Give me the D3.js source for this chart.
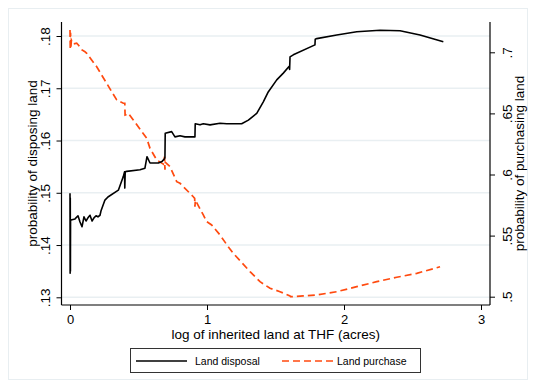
<!DOCTYPE html>
<html>
<head>
<meta charset="utf-8">
<script src="https://cdn.jsdelivr.net/npm/d3@7"></script>
<style>
  body { margin: 0; background: #fff; }
  svg { display: block; font-family: "Liberation Sans", Arial, sans-serif; }
</style>
</head>
<body>
<svg id="chart" width="536" height="387"></svg>
<script>
// log of inherited land (x) and probability of disposing land (left axis)
var disposalX = [0, 0.001, 0.002, 0.003, 0.004, 0.0073, 0.0365, 0.0584, 0.073, 0.0876, 0.102, 0.117, 0.131, 0.146, 0.161, 0.175, 0.19, 0.204, 0.219, 0.226, 0.255, 0.277, 0.353, 0.389, 0.398, 0.4, 0.403, 0.414, 0.511, 0.547, 0.562, 0.584, 0.645, 0.672, 0.69, 0.693, 0.695, 0.742, 0.766, 0.803, 0.839, 0.9, 0.912, 0.914, 0.949, 0.973, 1.022, 1.095, 1.144, 1.192, 1.253, 1.302, 1.363, 1.411, 1.447, 1.509, 1.557, 1.6, 1.603, 1.606, 1.63, 1.788, 1.79, 1.801, 1.947, 2.093, 2.263, 2.409, 2.555, 2.725];
var disposalY = [0.1499, 0.1346, 0.149, 0.135, 0.1448, 0.1448, 0.145, 0.1456, 0.1444, 0.1435, 0.1454, 0.1446, 0.1452, 0.1457, 0.1446, 0.1452, 0.1456, 0.1454, 0.1457, 0.1465, 0.1486, 0.1492, 0.1505, 0.1531, 0.154, 0.1509, 0.154, 0.1541, 0.1544, 0.1547, 0.1569, 0.1557, 0.1557, 0.156, 0.1565, 0.1568, 0.1614, 0.1617, 0.1607, 0.1609, 0.1607, 0.1607, 0.1607, 0.1632, 0.163, 0.1632, 0.163, 0.1633, 0.1632, 0.1632, 0.1632, 0.1639, 0.1652, 0.1674, 0.1693, 0.1716, 0.1729, 0.1742, 0.1736, 0.176, 0.1764, 0.1783, 0.1794, 0.1795, 0.1802, 0.1808, 0.1811, 0.181, 0.1802, 0.1789];

// probability of purchasing land (right axis)
var purchaseX = [0, 0.002, 0.004, 0.006, 0.01, 0.024, 0.049, 0.061, 0.085, 0.109, 0.122, 0.158, 0.195, 0.231, 0.268, 0.304, 0.341, 0.389, 0.4, 0.402, 0.409, 0.426, 0.462, 0.56, 0.584, 0.633, 0.681, 0.69, 0.693, 0.696, 0.73, 0.779, 0.803, 0.9, 0.91, 0.912, 0.915, 0.973, 0.998, 1.034, 1.095, 1.155, 1.192, 1.314, 1.387, 1.46, 1.533, 1.606, 1.61, 1.703, 1.801, 1.947, 2.093, 2.239, 2.385, 2.531, 2.701];
var purchaseY = [0.7182, 0.7021, 0.716, 0.703, 0.71, 0.7068, 0.7074, 0.706, 0.7021, 0.7005, 0.6992, 0.6937, 0.6882, 0.6814, 0.6746, 0.6678, 0.661, 0.6583, 0.6583, 0.6487, 0.649, 0.6501, 0.6446, 0.6296, 0.6214, 0.6119, 0.6085, 0.6146, 0.604, 0.61, 0.6064, 0.5941, 0.5928, 0.5818, 0.5805, 0.5736, 0.579, 0.5669, 0.5614, 0.5587, 0.5505, 0.5409, 0.5355, 0.5205, 0.5123, 0.5069, 0.5041, 0.5006, 0.5, 0.5006, 0.5014, 0.5041, 0.5082, 0.5123, 0.5159, 0.5191, 0.5245];

var xTicks = [0, 1, 2, 3];
var leftTicks = [0.13, 0.14, 0.15, 0.16, 0.17, 0.18];
var leftLabels = [".13", ".14", ".15", ".16", ".17", ".18"];
var rightTicks = [0.5, 0.55, 0.6, 0.65, 0.7];
var rightLabels = [".5", ".55", ".6", ".65", ".7"];
var seriesNames = ["Land disposal", "Land purchase"];

var ORANGE = "#ff4a0f";
var GRID = "#e9eff2";
var plot = { left: 61.5, right: 490, top: 22, bottom: 305 };

var svg = d3.select("#chart");

// outer graph region border
svg.append("rect")
    .attr("x", 8.5).attr("y", 8.5)
    .attr("width", 519).attr("height", 371)
    .attr("fill", "#fff")
    .attr("stroke", "#e8eef1")
    .attr("stroke-width", 1);

var x = d3.scaleLinear().domain([0, 3]).range([70, 481]);
var yLeft = d3.scaleLinear().domain([0.13, 0.18]).range([297.3, 36]);
var yRight = d3.scaleLinear().domain([0.5, 0.7]).range([296.7, 52.3]);

// gridlines at left ticks
svg.append("g")
    .selectAll("line")
    .data(leftTicks)
    .enter()
    .append("line")
        .attr("x1", plot.left)
        .attr("x2", plot.right)
        .attr("y1", function(d) { return yLeft(d); })
        .attr("y2", function(d) { return yLeft(d); })
        .attr("stroke", GRID)
        .attr("stroke-width", 1.5);

// axes
var xAxis = svg.append("g")
    .attr("transform", "translate(0," + plot.bottom + ")")
    .call(d3.axisBottom(x).tickValues(xTicks).tickSize(5).tickSizeOuter(0).tickFormat(d3.format("d")));

var leftAxis = svg.append("g")
    .attr("transform", "translate(" + plot.left + ",0)")
    .call(d3.axisLeft(yLeft).tickValues(leftTicks).tickSize(5).tickSizeOuter(0));

var rightAxis = svg.append("g")
    .attr("transform", "translate(" + plot.right + ",0)")
    .call(d3.axisRight(yRight).tickValues(rightTicks).tickSize(5).tickSizeOuter(0));

[xAxis, leftAxis, rightAxis].forEach(function(g) {
    g.select(".domain").remove();
    g.selectAll(".tick line").attr("stroke", "#000").attr("stroke-width", 1);
    g.selectAll("text").attr("fill", "#000").style("font-size", "13.5px");
});

xAxis.selectAll("text")
    .style("font-size", "13px")
    .attr("y", 9.5)
    .attr("dy", "0.71em");

// rotated y tick labels
leftAxis.selectAll(".tick text")
    .text(function(d, i) { return leftLabels[i]; })
    .attr("x", null).attr("dy", null)
    .attr("text-anchor", "middle")
    .attr("transform", "translate(-12,0) rotate(-90)");

rightAxis.selectAll(".tick text")
    .text(function(d, i) { return rightLabels[i]; })
    .attr("x", null).attr("dy", null)
    .attr("text-anchor", "middle")
    .attr("transform", "translate(21.5,0) rotate(-90)");

// axis lines spanning the plot region
svg.append("line")
    .attr("x1", plot.left).attr("x2", plot.right)
    .attr("y1", plot.bottom).attr("y2", plot.bottom)
    .attr("stroke", "#000").attr("stroke-width", 1.2);
svg.append("line")
    .attr("x1", plot.left).attr("x2", plot.left)
    .attr("y1", plot.top).attr("y2", plot.bottom)
    .attr("stroke", "#000").attr("stroke-width", 1.2);
svg.append("line")
    .attr("x1", plot.right).attr("x2", plot.right)
    .attr("y1", plot.top).attr("y2", plot.bottom)
    .attr("stroke", "#000").attr("stroke-width", 1.2);

// axis titles
svg.append("text")
    .attr("x", (plot.left + plot.right) / 2)
    .attr("y", 338.5)
    .attr("text-anchor", "middle")
    .style("font-size", "13.5px")
    .text("log of inherited land at THF (acres)");

svg.append("text")
    .attr("transform", "translate(36.5," + (plot.top + plot.bottom) / 2 + ") rotate(-90)")
    .attr("text-anchor", "middle")
    .style("font-size", "13.5px")
    .text("probability of disposing land");

svg.append("text")
    .attr("transform", "translate(524," + (plot.top + plot.bottom) / 2 + ") rotate(-90)")
    .attr("text-anchor", "middle")
    .style("font-size", "13.5px")
    .text("probability of purchasing land");

// series
var disposal = disposalX.map(function(d, i) { return [d, disposalY[i]]; });
var purchase = purchaseX.map(function(d, i) { return [d, purchaseY[i]]; });

svg.append("path")
    .datum(purchase)
    .attr("fill", "none")
    .attr("stroke", ORANGE)
    .attr("stroke-width", 1.7)
    .attr("stroke-dasharray", "7,4")
    .attr("d", d3.line()
        .x(function(d) { return x(d[0]); })
        .y(function(d) { return yRight(d[1]); }));

svg.append("path")
    .datum(disposal)
    .attr("fill", "none")
    .attr("stroke", "#000")
    .attr("stroke-width", 1.6)
    .attr("stroke-linejoin", "round")
    .attr("d", d3.line()
        .x(function(d) { return x(d[0]); })
        .y(function(d) { return yLeft(d[1]); }));

// legend
var legend = svg.append("g");
legend.append("rect")
    .attr("x", 130.5).attr("y", 348.5)
    .attr("width", 290).attr("height", 24)
    .attr("fill", "#fff")
    .attr("stroke", "#333")
    .attr("stroke-width", 1);

legend.append("line")
    .attr("x1", 136).attr("x2", 187)
    .attr("y1", 361).attr("y2", 361)
    .attr("stroke", "#000").attr("stroke-width", 1.6);
legend.append("text")
    .attr("x", 195).attr("y", 364.5)
    .style("font-size", "10.5px")
    .text(seriesNames[0]);

legend.append("line")
    .attr("x1", 282).attr("x2", 333)
    .attr("y1", 361).attr("y2", 361)
    .attr("stroke", ORANGE).attr("stroke-width", 1.7)
    .attr("stroke-dasharray", "7,4");
legend.append("text")
    .attr("x", 337).attr("y", 364.5)
    .style("font-size", "10.5px")
    .text(seriesNames[1]);
</script>
</body>
</html>
